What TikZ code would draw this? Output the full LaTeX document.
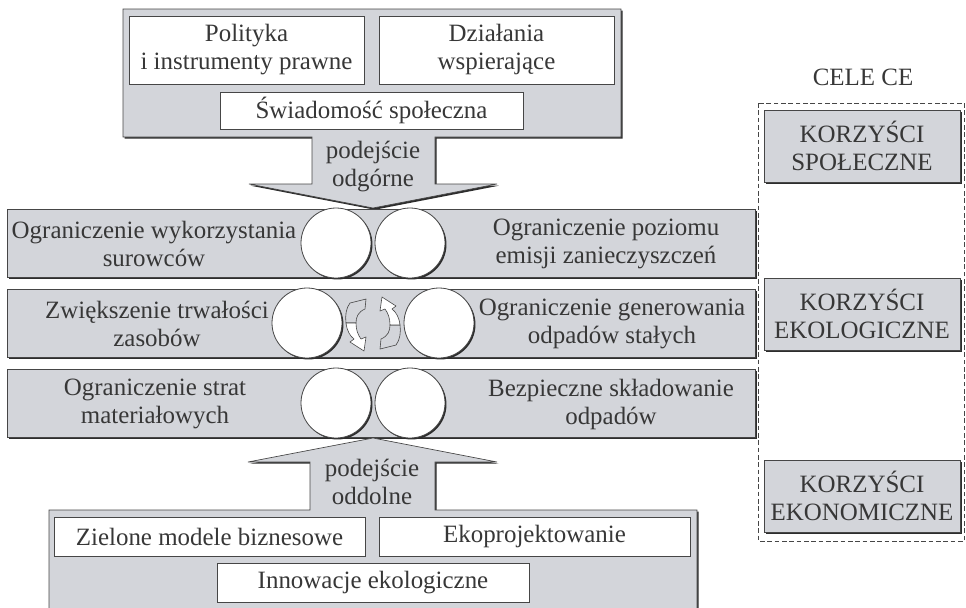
\documentclass[tikz,border=0pt]{standalone}
\usepackage{fontspec}
\setmainfont{Liberation Serif}
\usetikzlibrary{shadows}

\definecolor{boxgray}{RGB}{211,213,218}
\definecolor{edgegray}{RGB}{70,70,70}
\definecolor{shadowgray}{RGB}{45,45,45}
\definecolor{textgray}{RGB}{55,55,55}

\tikzset{
  graybox/.style={fill=boxgray, draw=edgegray, line width=0.5pt,
    drop shadow={shadow xshift=1.3pt, shadow yshift=-1.3pt, fill=shadowgray, opacity=1}},
  whitebox/.style={fill=white, draw=edgegray, line width=0.5pt,
    drop shadow={shadow xshift=0.5pt, shadow yshift=-0.5pt, fill=edgegray, opacity=1}},
  wheel/.style={fill=white, draw=edgegray, line width=0.6pt,
    drop shadow={shadow xshift=1.1pt, shadow yshift=-1.1pt, fill=shadowgray, opacity=1}},
  turnarrow/.style={draw=edgegray, line width=0.45pt, line join=round},
  txt/.style={text=textgray, align=center, font=\fontsize{18.7}{21}\selectfont}
}

\begin{document}
\begin{tikzpicture}[x=0.75pt,y=-0.75pt]
\useasboundingbox (0,0) rectangle (966,607);

% podejscie odgorne
\draw[graybox] (123,9) -- (621,9) -- (621,137) -- (435,137) -- (435,184) -- (497,184)
  -- (373,208) -- (249,184) -- (312,184) -- (312,137) -- (123,137) -- cycle;
\draw[whitebox] (129,16) rectangle (364,84);
\draw[whitebox] (379,16) rectangle (614,84);
\draw[whitebox] (220,92) rectangle (523,129);
\node[txt] (polityka) at (246.5,50) {Polityka\\i instrumenty prawne};
\node[txt] (dzialania) at (496.5,50) {Działania\\wspierające};
\node[txt] (swiadomosc) at (371.5,110.5) {Świadomość społeczna};
\node[txt] (odgorne) at (373,167) {podejście\\odgórne};

% pasy
\foreach \y in {209,289,369}
  \draw[graybox] (7,\y) rectangle (755,\y+68);
\foreach \cx/\cy in {336/243,410/243,307/323,439/323,336/403,410/403}
  \draw[wheel] (\cx,\cy) circle (26.25pt);

\node[txt] (surowce) at (154,244) {Ograniczenie wykorzystania\\surowców};
\node[txt] (emisje) at (606,244) {Ograniczenie poziomu\\emisji zanieczyszczeń};
\node[txt] (trwalosc) at (157,324) {Zwiększenie trwałości\\zasobów};
\node[txt] (odpady) at (612,324) {Ograniczenie generowania\\odpadów stałych};
\node[txt] (straty) at (155,404) {Ograniczenie strat\\materiałowych};
\node[txt] (skladowanie) at (611,404) {Bezpieczne składowanie\\odpadów};

% strzalki obrotu
\filldraw[turnarrow, fill=boxgray] (350,303) -- (366,299) -- (365,309)
  .. controls (358,312) and (356,317) .. (356,323) -- (346,323)
  .. controls (345,316) and (346,308) .. cycle;
\filldraw[turnarrow, fill=white] (346,323) .. controls (347,331) and (350,336) .. (354,339)
  -- (350,342) -- (364,351) -- (366,337) -- (361,339)
  .. controls (358,335) and (356,330) .. (356,323) -- cycle;
\begin{scope}[rotate around={180:(373,324)}]
\filldraw[turnarrow, fill=boxgray] (350,303) -- (366,299) -- (365,309)
  .. controls (358,312) and (356,317) .. (356,323) -- (346,323)
  .. controls (345,316) and (346,308) .. cycle;
\filldraw[turnarrow, fill=white] (346,323) .. controls (347,331) and (350,336) .. (354,339)
  -- (350,342) -- (364,351) -- (366,337) -- (361,339)
  .. controls (358,335) and (356,330) .. (356,323) -- cycle;
\end{scope}

% podejscie oddolne
\draw[graybox] (49,615) -- (49,510) -- (310,510) -- (310,462) -- (248,462) -- (373,438)
  -- (497,462) -- (435,462) -- (435,510) -- (697,510) -- (697,615) -- cycle;
\draw[whitebox] (54,517) rectangle (365,556);
\draw[whitebox] (379,517) rectangle (690,556);
\draw[whitebox] (217,563) rectangle (529,602);
\node[txt] (zielone) at (209.5,536.5) {Zielone modele biznesowe};
\node[txt] (ekoprojekt) at (534.5,536.5) {Ekoprojektowanie};
\node[txt] (innowacje) at (373,582.5) {Innowacje ekologiczne};
\node[txt] (oddolne) at (372,482) {podejście\\oddolne};

% cele CE
\node[txt] (cele) at (863,77) {CELE CE};
\draw[edgegray, dash pattern=on 3.5pt off 2pt, line width=0.6pt] (758,103) rectangle (964.5,541);
\draw[graybox] (764,110) rectangle (960,182);
\draw[graybox] (764,278) rectangle (960,350);
\draw[graybox] (764,460) rectangle (960,532);
\node[txt] (spoleczne) at (862,146) {KORZYŚCI\\SPOŁECZNE};
\node[txt] (ekologiczne) at (862,314) {KORZYŚCI\\EKOLOGICZNE};
\node[txt] (ekonomiczne) at (862,496) {KORZYŚCI\\EKONOMICZNE};
\end{tikzpicture}
\end{document}
